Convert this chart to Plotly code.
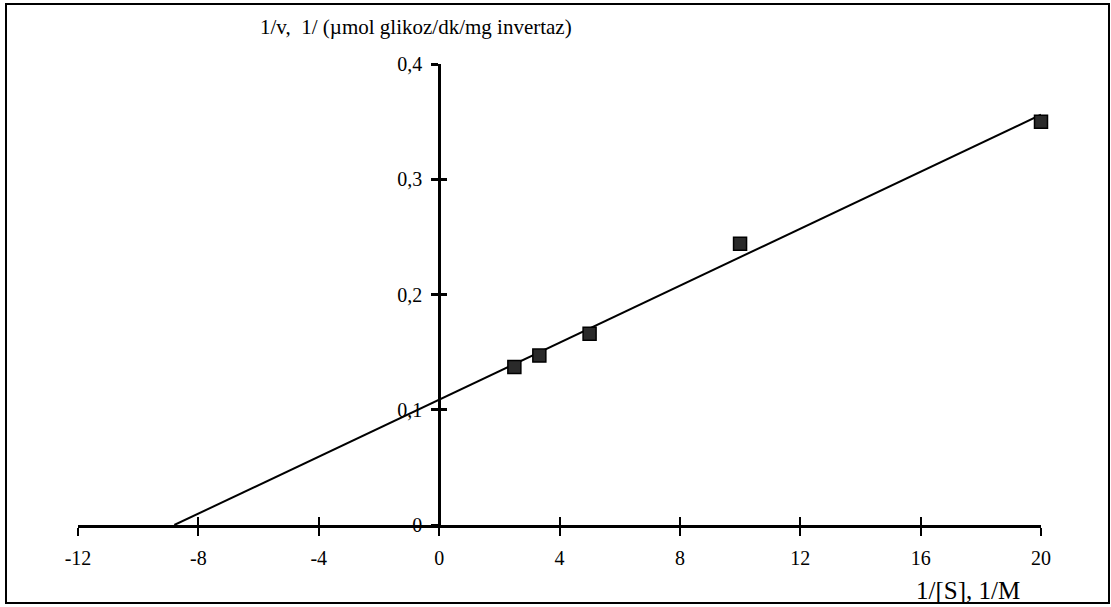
import plotly.graph_objects as go

# Data
s_inv = [2.5, 3.33, 5, 10, 20]            # 1/[S], 1/M
v_inv = [0.137, 0.147, 0.166, 0.244, 0.350]  # 1/v
fit_x = [-8.8, 20]
fit_y = [0.0, 0.356]
x_ticks = [-12, -8, -4, 0, 4, 8, 12, 16, 20]
x_ticklabels = ["-12", "-8", "-4", "0", "4", "8", "12", "16", "20"]
y_ticks = [0, 0.1, 0.2, 0.3, 0.4]
y_ticklabels = ["0", "0,1", "0,2", "0,3", "0,4"]
title_text = "1/v,  1/ (\u00b5mol glikoz/dk/mg invertaz)"
xlabel_text = "1/[S], 1/M"

W, H = 1111, 607
L, R, T, B = 78, 70, 64, 82
pw, ph = W - L - R, H - T - B

def px(x):
    return (x - L) / pw

def py(y):
    return (H - B - y) / ph

font = "Liberation Serif"
ypos = (0 - x_ticks[0]) / (x_ticks[-1] - x_ticks[0])

fig = go.Figure()
fig.add_trace(go.Scatter(x=fit_x, y=fit_y, mode="lines",
                         line=dict(color="black", width=2),
                         xaxis="x", yaxis="y", showlegend=False, hoverinfo="skip"))
fig.add_trace(go.Scatter(x=s_inv, y=v_inv, mode="markers",
                         marker=dict(symbol="square", size=13, color="#2a2a2a",
                                     line=dict(color="black", width=1.5)),
                         cliponaxis=False, xaxis="x2", yaxis="y2", showlegend=False))

common_x = dict(range=[x_ticks[0], x_ticks[-1]], tickvals=x_ticks, showgrid=False,
                zeroline=False, tickcolor="black", tickwidth=2, ticklen=8)
common_y = dict(range=[y_ticks[0], y_ticks[-1]], tickvals=y_ticks, showgrid=False,
                zeroline=False, tickcolor="black", tickwidth=2.5, ticklen=7)

fig.update_layout(
    width=W, height=H,
    margin=dict(l=L, r=R, t=T, b=B),
    paper_bgcolor="white", plot_bgcolor="white",
    font=dict(family=font, color="black", size=20),
    xaxis=dict(**common_x, ticktext=x_ticklabels, ticks="outside", anchor="y",
               showline=True, linecolor="black", linewidth=2.5,
               ticklabelstandoff=5, tickfont=dict(size=20, family=font)),
    yaxis=dict(**common_y, ticktext=y_ticklabels, ticks="outside", anchor="free",
               position=ypos, showline=True, linecolor="black", linewidth=3,
               ticklabelstandoff=5, tickfont=dict(size=20, family=font)),
    xaxis2=dict(**common_x, ticks="inside", overlaying="x", anchor="y2",
                showticklabels=False, showline=False),
    yaxis2=dict(**common_y, ticks="inside", overlaying="y", anchor="free",
                position=ypos, showticklabels=False, showline=False),
    shapes=[dict(type="rect", xref="paper", yref="paper",
                 x0=px(6), x1=px(1109), y0=py(603), y1=py(4),
                 line=dict(color="black", width=2), layer="below")],
    annotations=[
        dict(text=title_text, xref="paper", yref="paper", x=px(258), y=py(27),
             xanchor="left", yanchor="middle", showarrow=False,
             font=dict(size=21, family=font)),
        dict(text=xlabel_text, xref="paper", yref="paper", x=px(914), y=py(590),
             xanchor="left", yanchor="middle", showarrow=False,
             font=dict(size=25, family=font)),
    ],
)

fig.write_html("out.html")
